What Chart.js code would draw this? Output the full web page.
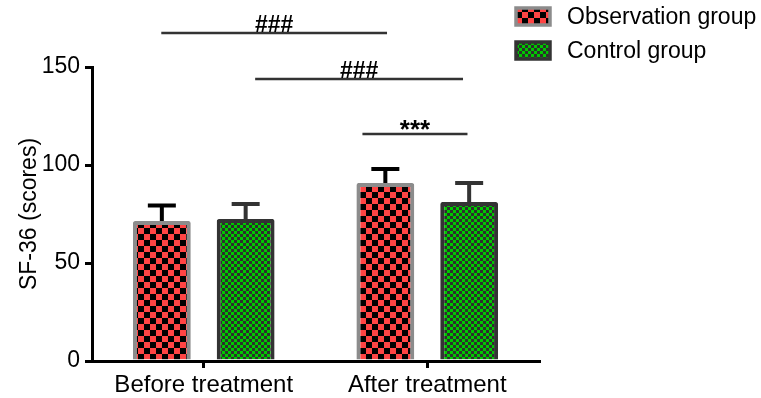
<!DOCTYPE html>
<html>
<head>
<meta charset="utf-8">
<script src="https://cdn.jsdelivr.net/npm/chart.js@4"></script>
<style>
  body { margin: 0; background: #fff; }
  canvas { display: block; }
</style>
</head>
<body>
<canvas id="c" width="761" height="398"></canvas>
<script>
var categories = ['Before treatment', 'After treatment'];
var observation = [71.4, 90.8];
var control = [72.4, 81.1];
var observationSd = [7.9, 7.2];
var controlSd = [7.7, 9.7];
var yTicks = [0, 50, 100, 150];

// significance marks: from/to on the category axis, height in scores
var marks = [
    { from: -0.19, to: 0.82, at: 167.3, text: '###', size: 23 },
    { from: 0.23, to: 1.16, at: 143.9, text: '###', size: 23 },
    { from: 0.71, to: 1.18, at: 115.8, text: '***', size: 26 }
];

Chart.defaults.font.family = '"Liberation Sans", Arial, sans-serif';
Chart.defaults.color = '#000';

var ctx = document.getElementById('c').getContext('2d');

// checkerboard fill for the bars
function checker(size, base, dark) {
    var tile = document.createElement('canvas');
    tile.width = tile.height = size * 2;
    var g = tile.getContext('2d');
    g.fillStyle = base;
    g.fillRect(0, 0, size * 2, size * 2);
    g.fillStyle = dark;
    g.fillRect(0, 0, size, size);
    g.fillRect(size, size, size, size);
    return ctx.createPattern(tile, 'repeat');
}

var redFill = checker(6, '#ff4444', '#000000');
var greenFill = checker(3, '#00c800', '#2e2e2e');
var sds = [observationSd, controlSd];
var capColors = ['#000000', '#333333'];

var extras = {
    id: 'extras',
    afterDatasetsDraw: function (chart) {
        var c = chart.ctx, y = chart.scales.y;
        // error bars (upper half only)
        chart.data.datasets.forEach(function (ds, i) {
            chart.getDatasetMeta(i).data.forEach(function (bar, j) {
                var top = y.getPixelForValue(ds.data[j] + sds[i][j]);
                c.save();
                c.strokeStyle = capColors[i];
                c.lineWidth = 4;
                c.beginPath();
                c.moveTo(bar.x, bar.y);
                c.lineTo(bar.x, top);
                c.moveTo(bar.x - 14, top);
                c.lineTo(bar.x + 14, top);
                c.stroke();
                c.restore();
            });
        });
    },
    afterDraw: function (chart) {
        var c = chart.ctx, x = chart.scales.x, y = chart.scales.y;
        // significance lines
        marks.forEach(function (m) {
            var x1 = x.getPixelForValue(m.from), x2 = x.getPixelForValue(m.to);
            var py = y.getPixelForValue(m.at);
            c.save();
            c.strokeStyle = '#333';
            c.lineWidth = 2.5;
            c.beginPath();
            c.moveTo(x1, py);
            c.lineTo(x2, py);
            c.stroke();
            c.fillStyle = '#000';
            c.font = 'bold ' + m.size + 'px "Liberation Sans", Arial, sans-serif';
            c.textAlign = 'center';
            c.textBaseline = 'alphabetic';
            var box = c.measureText(m.text);
            var mid = (box.actualBoundingBoxAscent - box.actualBoundingBoxDescent) / 2;
            c.fillText(m.text, (x1 + x2) / 2, py - 9.5 + mid);
            c.restore();
        });
        // legend
        chart.data.datasets.forEach(function (ds, i) {
            var top = 8 + i * 34;
            c.save();
            c.fillStyle = ds.backgroundColor;
            c.fillRect(516, top, 34, 17);
            c.strokeStyle = ds.borderColor;
            c.lineWidth = 3.5;
            c.strokeRect(516, top, 34, 17);
            c.fillStyle = '#000';
            c.font = '23px "Liberation Sans", Arial, sans-serif';
            c.textBaseline = 'middle';
            c.fillText(ds.label, 567, top + 9.5);
            c.restore();
        });
    }
};

new Chart(ctx, {
    type: 'bar',
    data: {
        labels: categories,
        datasets: [{
            label: 'Observation group',
            data: observation,
            backgroundColor: redFill,
            borderColor: '#8c8c8c',
            borderWidth: 4,
            borderRadius: 2,
            borderSkipped: 'start'
        }, {
            label: 'Control group',
            data: control,
            backgroundColor: greenFill,
            borderColor: '#333333',
            borderWidth: 4,
            borderRadius: 2,
            borderSkipped: 'start'
        }]
    },
    options: {
        responsive: false,
        animation: false,
        categoryPercentage: 0.75,
        barPercentage: 0.69,
        layout: { padding: { top: 67, right: 222, left: 0, bottom: 0 } },
        plugins: { legend: { display: false }, tooltip: { enabled: false } },
        scales: {
            x: {
                grid: { offset: false, drawOnChartArea: false, tickLength: 7, color: '#000', lineWidth: 3 },
                border: { color: '#000', width: 3 },
                ticks: { font: { size: 24 }, padding: 3, color: '#000' },
                afterFit: function (s) { s.height = 37; }
            },
            y: {
                min: 0,
                max: 150,
                afterBuildTicks: function (s) { s.ticks = yTicks.map(function (v) { return { value: v }; }); },
                grid: { drawOnChartArea: false, tickLength: 7, color: '#000', lineWidth: 3 },
                border: { color: '#000', width: 3 },
                ticks: { font: { size: 23 }, padding: 5, color: '#000' },
                title: { display: true, text: 'SF-36 (scores)', font: { size: 23 }, color: '#000', padding: { top: 16 } },
                afterFit: function (s) { s.width = 92; }
            }
        }
    },
    plugins: [extras]
});
</script>
</body>
</html>
